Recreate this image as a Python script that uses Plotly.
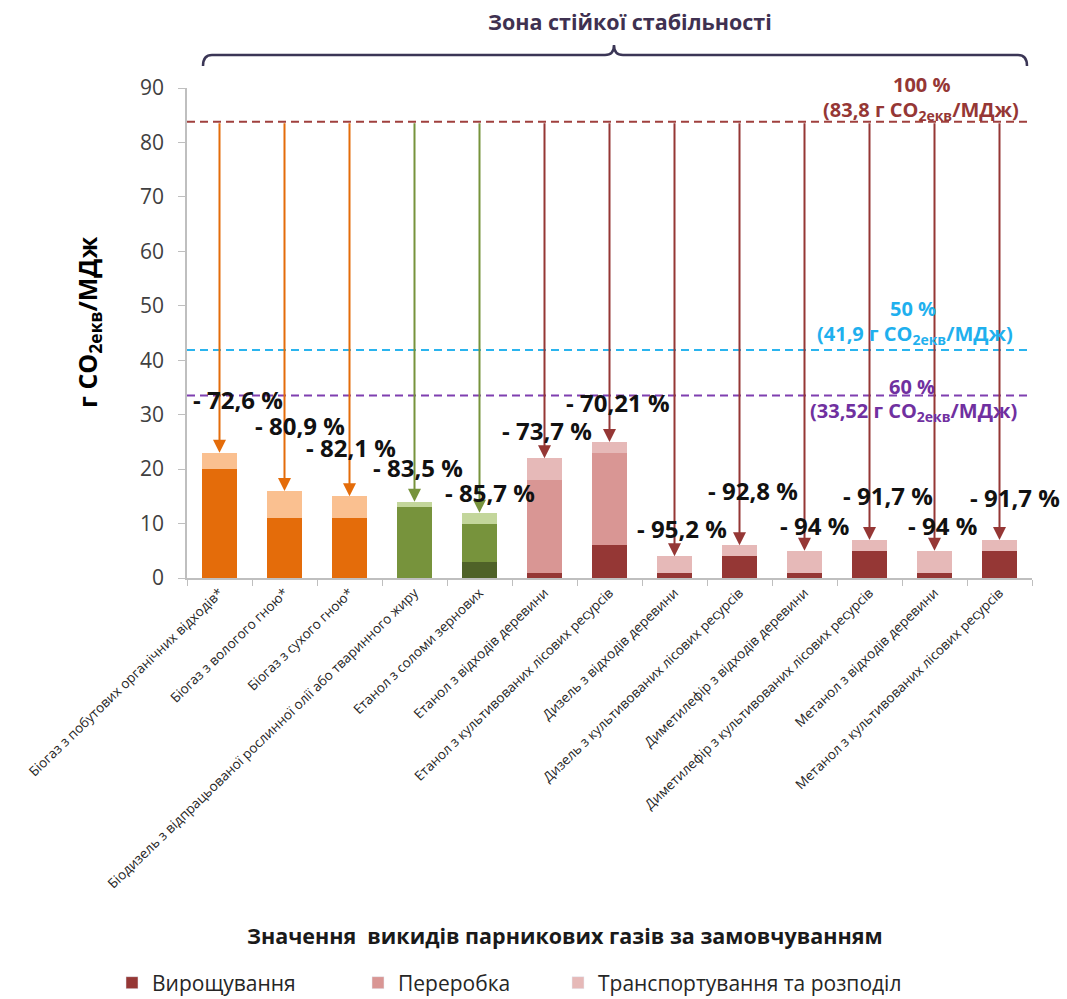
import plotly.graph_objects as go

# ---- data -------------------------------------------------------------
categories = [
    "Біогаз з побутових органічних відходів*",
    "Біогаз з вологого гною*",
    "Біогаз з сухого гною*",
    "Біодизель з відпрацьованої рослинної олії або тваринного жиру",
    "Етанол з соломи зернових",
    "Етанол з відходів деревини",
    "Етанол з культивованих лісових ресурсів",
    "Дизель з відходів деревини",
    "Дизель з культивованих лісових ресурсів",
    "Диметилефір з відходів деревини",
    "Диметилефір з культивованих лісових ресурсів",
    "Метанол з відходів деревини",
    "Метанол з культивованих лісових ресурсів",
]
cultivation = [0, 0, 0, 0, 3, 1, 6, 1, 4, 1, 5, 1, 5]
processing = [20, 11, 11, 13, 7, 17, 17, 0, 0, 0, 0, 0, 0]
transport = [3, 5, 4, 1, 2, 4, 2, 3, 2, 4, 2, 4, 2]
reduction_labels = [
    "- 72,6 %", "- 80,9 %", "- 82,1 %", "- 83,5 %", "- 85,7 %",
    "- 73,7 %", "- 70,21 %", "- 95,2 %", "- 92,8 %", "- 94 %",
    "- 91,7 %", "- 94 %", "- 91,7 %",
]
fuel_group = ["biogas"] * 3 + ["green"] * 2 + ["wood"] * 8
series_names = ["Вирощування", "Переробка", "Транспортування та розподіл"]
fossil_ref = 83.8      # 100 %
threshold_50 = 41.9    # 50 %
threshold_60 = 33.52   # 60 %
y_ticks = [0, 10, 20, 30, 40, 50, 60, 70, 80, 90]

# ---- styling ----------------------------------------------------------
FONT = "Open Sans"
W, H = 1067, 999
L, R, T, B = 187, 1032, 88, 578
palette = {
    "biogas": ("#E46C0A", "#E46C0A", "#FAC090"),
    "green": ("#4F6228", "#77933C", "#C3D69B"),
    "wood": ("#953735", "#D99694", "#E6B9B8"),
}
arrow_colors = {"biogas": "#E46C0A", "green": "#77933C", "wood": "#953735"}
legend_colors = ["#953735", "#D99694", "#E6B9B8"]


def px(x):
    return (x - L) / (R - L)


def py(y):
    return (B - y) / (B - T)


totals = [c + p + t for c, p, t in zip(cultivation, processing, transport)]

fig = go.Figure()
for k, vals in enumerate([cultivation, processing, transport]):
    fig.add_trace(go.Bar(
        x=categories, y=vals, name=series_names[k], showlegend=False,
        marker=dict(color=[palette[g][k] for g in fuel_group], line=dict(width=0)),
        hoverinfo="skip",
    ))

# legend entries (three separate legends placed along the bottom)
legend_keys = ["legend", "legend2", "legend3"]
for k, name in enumerate(series_names):
    fig.add_trace(go.Bar(
        x=[None], y=[None], name=name, marker=dict(color=legend_colors[k]),
        legend=legend_keys[k], showlegend=True,
    ))

shapes = []
# reference lines
for val, col in [(fossil_ref, "#A0403E"), (threshold_50, "#2AB4EE"), (threshold_60, "#7F3FB0")]:
    shapes.append(dict(type="line", xref="paper", yref="y", x0=0, x1=1, y0=val, y1=val,
                       line=dict(color=col, width=2, dash="8px,5px"), layer="above"))

# bracket over the chart
bx0, bx1, bxm, by, byend, bytip, rr = 203, 1027, 614, 55, 66, 45, 9
path = (
    f"M {px(bx0)},{py(byend)} Q {px(bx0)},{py(by)} {px(bx0 + rr)},{py(by)} "
    f"L {px(bxm - rr)},{py(by)} Q {px(bxm)},{py(by)} {px(bxm)},{py(bytip)} "
    f"Q {px(bxm)},{py(by)} {px(bxm + rr)},{py(by)} "
    f"L {px(bx1 - rr)},{py(by)} Q {px(bx1)},{py(by)} {px(bx1)},{py(byend)}"
)
shapes.append(dict(type="path", xref="paper", yref="paper", path=path,
                   line=dict(color="#3B3656", width=2.5)))

annotations = []
# arrows from the fossil reference down to each bar
for i, tot in enumerate(totals):
    annotations.append(dict(
        x=i, y=tot, ax=i, ay=fossil_ref, xref="x", yref="y", axref="x", ayref="y",
        text="", showarrow=True, arrowhead=2, arrowsize=1.3, arrowwidth=2,
        arrowcolor=arrow_colors[fuel_group[i]], standoff=0,
    ))

# reduction labels: offset in category units and height in axis units
label_place = [
    (0.285, 32.7), (0.24, 28.1), (0.02, 24.0), (0.05, 20.3), (0.16, 15.7),
    (0.04, 27.1), (0.13, 32.3), (0.12, 9.1), (0.21, 16.1), (0.15, 9.7),
    (0.28, 15.2), (0.12, 9.7), (0.24, 14.8),
]
for i, txt in enumerate(reduction_labels):
    dx, yy = label_place[i]
    annotations.append(dict(
        x=i + dx, y=yy, xref="x", yref="y", text=f"<b>{txt}</b>", showarrow=False,
        font=dict(family=FONT, size=24, color="#111111"), xanchor="center", yanchor="middle",
    ))


def text_at(x, y, txt, size, color, bold=True, angle=0):
    annotations.append(dict(
        x=px(x), y=py(y), xref="paper", yref="paper", showarrow=False,
        text=f"<b>{txt}</b>" if bold else txt, textangle=angle,
        font=dict(family=FONT, size=size, color=color),
        xanchor="center", yanchor="middle",
    ))


unit = "г CO<sub>2екв</sub>/МДж"
text_at(922, 85, "100 %", 20, "#953735")
text_at(921, 110, f"(83,8 {unit})", 20, "#953735")
text_at(913, 308, "50 %", 20, "#1FB0EE")
text_at(915, 334, f"(41,9 {unit})", 20, "#1FB0EE")
text_at(912, 386, "60 %", 20, "#7030A0")
text_at(913, 412, f"(33,52 {unit})", 20, "#7030A0")
text_at(630, 22, "Зона стійкої стабільності", 21.5, "#3F3151")
text_at(88, 323, unit, 25, "#000000", angle=-90)
text_at(565, 935, "Значення\u00a0 викидів парникових газів за замовчуванням", 21.5, "#1A1A1A")

legend_common = dict(
    xref="container", yref="container", xanchor="left", yanchor="middle",
    orientation="h", bgcolor="rgba(0,0,0,0)",
    font=dict(family=FONT, size=21, color="#262626"), y=1 - 983 / H,
)

fig.update_layout(
    width=W, height=H,
    margin=dict(l=L, r=W - R, t=T, b=H - B, pad=0),
    paper_bgcolor="white", plot_bgcolor="white",
    barmode="stack", bargap=0.45,
    font=dict(family=FONT, color="#404040"),
    shapes=shapes, annotations=annotations,
    legend=dict(x=112 / W, **legend_common),
    legend2=dict(x=358 / W, **legend_common),
    legend3=dict(x=558 / W, **legend_common),
    xaxis=dict(
        type="category", tickson="boundaries", ticks="outside", ticklen=6,
        tickcolor="#BFBFBF", showline=True, linecolor="#BFBFBF", linewidth=1.5,
        tickangle=-44, tickfont=dict(family=FONT, size=13.5, color="#262626"),
        showgrid=False, zeroline=False, range=[-0.5, len(categories) - 0.5],
    ),
    yaxis=dict(
        range=[0, 90], tickvals=y_ticks, ticks="outside", ticklen=7,
        tickcolor="#BFBFBF", showline=True, linecolor="#BFBFBF", linewidth=1.5,
        tickfont=dict(family=FONT, size=21, color="#404040"), ticklabelstandoff=10,
        showgrid=False, zeroline=False,
    ),
)

fig.write_html("out.html")
